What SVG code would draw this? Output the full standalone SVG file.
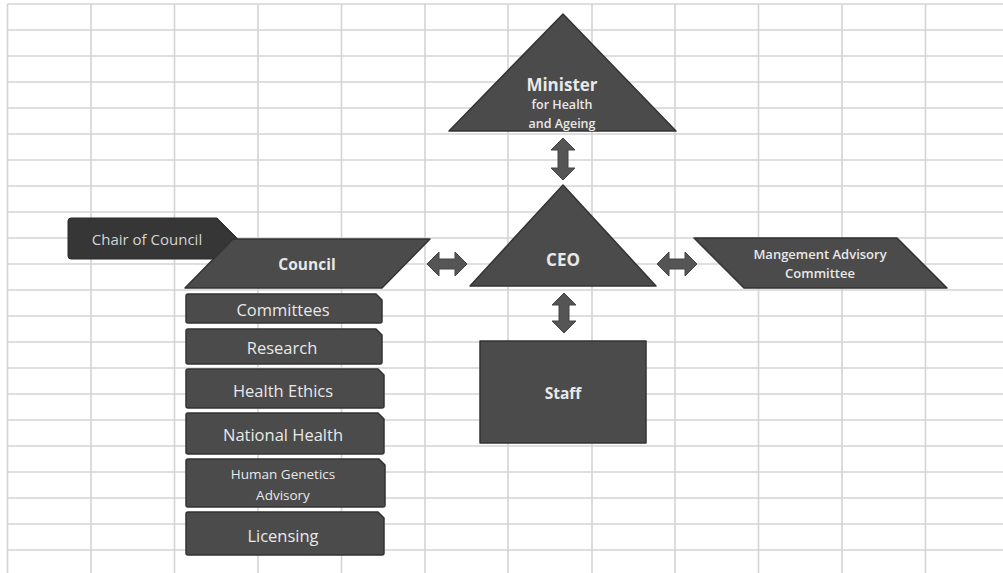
<svg xmlns="http://www.w3.org/2000/svg" width="1003" height="573" viewBox="0 0 1003 573">
<defs>
<style>
.grid line{stroke:#d4d4d4;stroke-width:1.6}
.shape{fill:#4b4b4b;stroke:#333;stroke-width:1.5;stroke-linejoin:round}
.arrow{fill:#555;stroke:#444;stroke-width:1}
.t{font-family:"Open Sans","Liberation Sans",sans-serif;fill:#e8e8e8;text-anchor:middle;dominant-baseline:central}
.b{font-weight:bold}
.m{font-weight:600}
</style>
</defs>
<rect width="1003" height="573" fill="#fff"/>
<g class="grid">
<line x1="7.5" y1="4" x2="7.5" y2="573"/><line x1="91" y1="4" x2="91" y2="573"/><line x1="174.5" y1="4" x2="174.5" y2="573"/><line x1="258" y1="4" x2="258" y2="573"/><line x1="341.5" y1="4" x2="341.5" y2="573"/><line x1="425" y1="4" x2="425" y2="573"/><line x1="508" y1="4" x2="508" y2="573"/><line x1="592" y1="4" x2="592" y2="573"/><line x1="675" y1="4" x2="675" y2="573"/><line x1="758.5" y1="4" x2="758.5" y2="573"/><line x1="842" y1="4" x2="842" y2="573"/><line x1="925.5" y1="4" x2="925.5" y2="573"/>
<line x1="7.5" y1="4" x2="1003" y2="4"/><line x1="7.5" y1="30" x2="1003" y2="30"/><line x1="7.5" y1="56" x2="1003" y2="56"/><line x1="7.5" y1="82" x2="1003" y2="82"/><line x1="7.5" y1="108" x2="1003" y2="108"/><line x1="7.5" y1="134" x2="1003" y2="134"/><line x1="7.5" y1="160" x2="1003" y2="160"/><line x1="7.5" y1="186" x2="1003" y2="186"/><line x1="7.5" y1="212" x2="1003" y2="212"/><line x1="7.5" y1="238" x2="1003" y2="238"/><line x1="7.5" y1="264" x2="1003" y2="264"/><line x1="7.5" y1="290" x2="1003" y2="290"/><line x1="7.5" y1="316" x2="1003" y2="316"/><line x1="7.5" y1="342" x2="1003" y2="342"/><line x1="7.5" y1="368" x2="1003" y2="368"/><line x1="7.5" y1="394" x2="1003" y2="394"/><line x1="7.5" y1="420" x2="1003" y2="420"/><line x1="7.5" y1="446" x2="1003" y2="446"/><line x1="7.5" y1="472" x2="1003" y2="472"/><line x1="7.5" y1="498" x2="1003" y2="498"/><line x1="7.5" y1="524" x2="1003" y2="524"/><line x1="7.5" y1="550" x2="1003" y2="550"/>
</g>
<g id="connectors">
<path class="arrow" d="M563,138 L575,150 L568,150 L568,168 L575,168 L563,180 L551,168 L558,168 L558,150 L551,150 Z"/>
<path class="arrow" d="M564,293 L576,305 L569,305 L569,321 L576,321 L564,333 L552,321 L559,321 L559,305 L552,305 Z"/>
<path class="arrow" d="M427,264 L439,252 L439,259 L455,259 L455,252 L467,264 L455,276 L455,269 L439,269 L439,276 Z"/>
<path class="arrow" d="M657,264 L669,252 L669,259 L685,259 L685,252 L697,264 L685,276 L685,269 L669,269 L669,276 Z"/>
</g>
<g id="minister">
<path class="shape" d="M563,14 L676,131 L449,131 Z"/>
<text class="t b" x="562" y="84" font-size="17">Minister</text>
<text class="t m" x="562" y="104" font-size="12.5">for Health</text>
<text class="t m" x="562" y="123" font-size="12.5">and Ageing</text>
</g>
<g id="ceo">
<path class="shape" d="M563,185 L656,286 L470,286 Z"/>
<text class="t b" x="563" y="259" font-size="17">CEO</text>
</g>
<g id="staff">
<rect class="shape" x="480" y="341" width="166" height="102"/>
<text class="t b" x="563" y="393" font-size="15.5">Staff</text>
</g>
<g id="management-advisory-committee">
<path class="shape" d="M694,238 L897,238 L947,288 L744,288 Z"/>
<text class="t m" x="820" y="254" font-size="13">Mangement Advisory</text>
<text class="t m" x="820" y="273" font-size="13">Committee</text>
</g>
<g id="chair-of-council">
<path d="M71,218 L217,218 L238,239 L217,259 L71,259 Q68,259 68,256 L68,221 Q68,218 71,218 Z" fill="#363636" stroke="#2a2a2a" stroke-width="1"/>
<text class="t" x="147" y="239" font-size="15" style="fill:#d4d4d4">Chair of Council</text>
</g>
<g id="council">
<path class="shape" d="M233,239 L430,239 L382,288 L185,288 Z"/>
<text class="t b" x="307" y="264" font-size="15.5">Council</text>
</g>
<g id="committees">
<path class="shape" d="M188,294 L376,294 L382,300 L382,321 Q382,323 380,323 L188,323 Q186,323 186,321 L186,296 Q186,294 188,294 Z"/>
<text class="t" x="283" y="309" font-size="16.5">Committees</text>
</g>
<g id="research">
<path class="shape" d="M188,329 L376,329 L382,335 L382,362 Q382,364 380,364 L188,364 Q186,364 186,362 L186,331 Q186,329 188,329 Z"/>
<text class="t" x="282" y="347" font-size="16.5">Research</text>
</g>
<g id="health-ethics">
<path class="shape" d="M188,369 L378,369 L384,375 L384,406 Q384,408 382,408 L188,408 Q186,408 186,406 L186,371 Q186,369 188,369 Z"/>
<text class="t" x="283" y="390" font-size="16.5">Health Ethics</text>
</g>
<g id="national-health">
<path class="shape" d="M188,413 L378,413 L384,419 L384,452 Q384,454 382,454 L188,454 Q186,454 186,452 L186,415 Q186,413 188,413 Z"/>
<text class="t" x="283" y="434" font-size="16.5">National Health</text>
</g>
<g id="human-genetics-advisory">
<path class="shape" d="M188,459 L379,459 L385,465 L385,505 Q385,507 383,507 L188,507 Q186,507 186,505 L186,461 Q186,459 188,459 Z"/>
<text class="t" x="283" y="474" font-size="13.5">Human Genetics</text>
<text class="t" x="283" y="495" font-size="13.5">Advisory</text>
</g>
<g id="licensing">
<path class="shape" d="M188,512 L378,512 L384,518 L384,553 Q384,555 382,555 L188,555 Q186,555 186,553 L186,514 Q186,512 188,512 Z"/>
<text class="t" x="283" y="535" font-size="16.5">Licensing</text>
</g>
</svg>
